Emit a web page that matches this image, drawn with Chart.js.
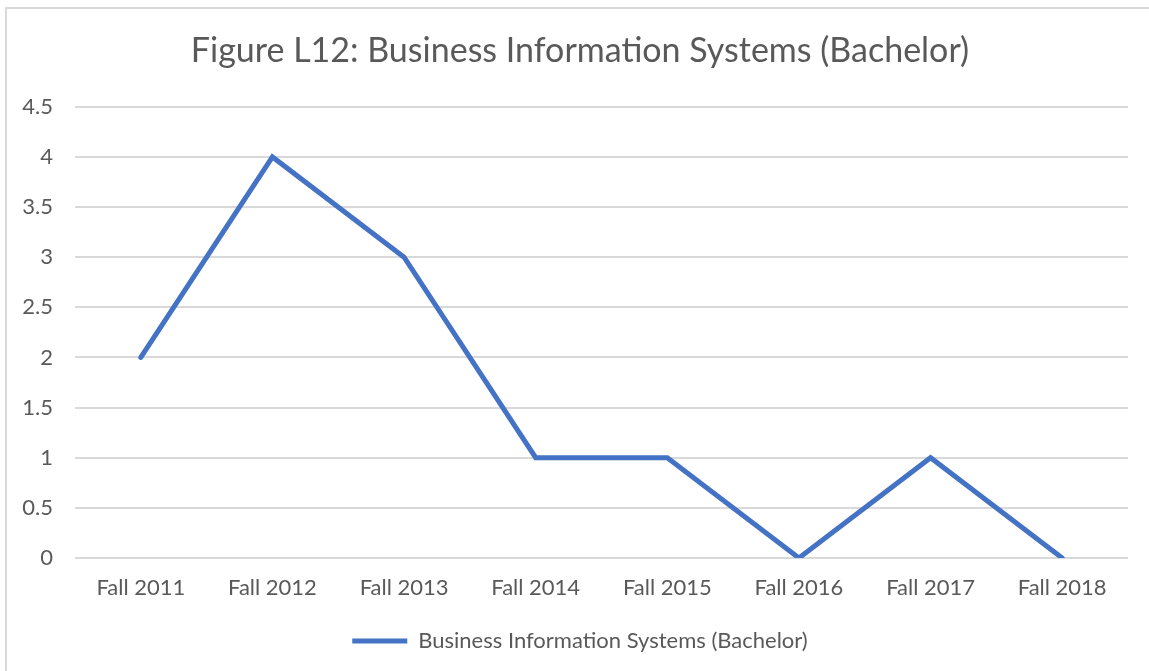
<!DOCTYPE html>
<html>
<head>
<meta charset="utf-8">
<script src="https://cdn.jsdelivr.net/npm/chart.js@4.4.0/dist/chart.umd.min.js"></script>
<style>
  html, body { margin: 0; padding: 0; background: #fff; overflow: hidden; width: 1149px; height: 671px; }
  #frame { position: absolute; left: 5px; top: 7px; width: 1160px; height: 680px; border: 2px solid #D9D9D9; box-sizing: border-box; }
  #wrap { position: absolute; left: 0; top: 0; width: 1160px; height: 671px; }
</style>
</head>
<body>
<div id="frame"></div>
<div id="wrap"><canvas id="chart"></canvas></div>
<script>
// data
var categories = ['Fall 2011', 'Fall 2012', 'Fall 2013', 'Fall 2014', 'Fall 2015', 'Fall 2016', 'Fall 2017', 'Fall 2018'];
var values = [2, 4, 3, 1, 1, 0, 1, 0];
var seriesName = 'Business Information Systems (Bachelor)';
var chartTitle = 'Figure L12: Business Information Systems (Bachelor)';

var fontFamily = 'Lato, "Open Sans", sans-serif';
var textColor = '#595959';
var blue = '#4472C4';

new Chart(document.getElementById('chart'), {
    type: 'line',
    data: {
        labels: categories,
        datasets: [{
            label: seriesName,
            data: values,
            borderColor: blue,
            backgroundColor: blue,
            borderWidth: 5,
            borderCapStyle: 'round',
            pointRadius: 0,
            tension: 0,
            fill: false
        }]
    },
    options: {
        responsive: true,
        maintainAspectRatio: false,
        animation: false,
        layout: { padding: { left: 0, right: 0, top: 0, bottom: 9 } },
        plugins: {
            title: {
                display: true,
                text: chartTitle,
                color: textColor,
                font: { family: fontFamily, size: 34, weight: 'normal' },
                padding: { top: 31, bottom: 35 }
            },
            legend: {
                position: 'bottom',
                labels: {
                    color: textColor,
                    font: { family: fontFamily, size: 22 },
                    usePointStyle: true,
                    pointStyle: 'line',
                    pointStyleWidth: 55,
                    padding: 10
                }
            },
            tooltip: { enabled: false }
        },
        scales: {
            x: {
                offset: true,
                grid: { display: false },
                border: { display: false },
                ticks: { color: textColor, font: { family: fontFamily, size: 22 }, padding: 9, maxRotation: 0 },
                afterFit: function (scale) { scale.height = 62; }
            },
            y: {
                min: 0,
                max: 4.5,
                ticks: {
                    stepSize: 0.5,
                    color: textColor,
                    font: { family: fontFamily, size: 22 },
                    padding: 22,
                    callback: function (v) { return String(v); }
                },
                grid: { color: '#D9D9D9', lineWidth: 2, drawTicks: false },
                border: { display: false },
                afterFit: function (scale) { scale.width = 75; }
            },
            // empty right-hand spacer so the title and legend centre like the reference
            yRight: {
                type: 'linear',
                position: 'right',
                grid: { display: false },
                border: { display: false },
                ticks: { display: false },
                afterFit: function (scale) { scale.width = 32; }
            }
        }
    }
});
</script>
</body>
</html>
